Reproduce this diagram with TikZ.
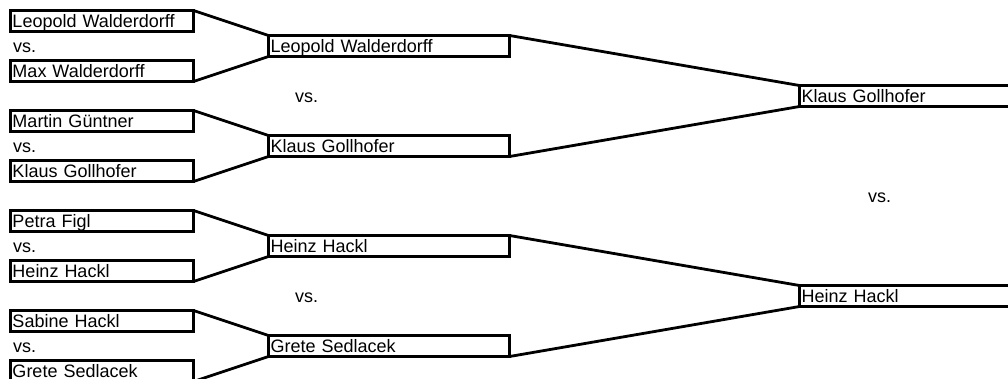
\documentclass[tikz,border=0pt]{standalone}
\usepackage{fontspec}
\setmainfont{Liberation Sans}
\tikzset{trait/.style={line width=2.8pt}}
\newcommand{\duel}[3]{\draw[trait] (#1.north east) -- (#3.north west);
	\draw[trait] (#2.south east) -- (#3.south west)}

\begin{document}
\begin{tikzpicture}[x=1pt, y=-1pt,
	lettre/.style={font=\fontsize{18}{20}\selectfont, text height=16pt, text depth=4pt},
	joueur/.style={draw, trait, rectangle, lettre, outer sep=0pt, inner xsep=2pt,
		inner ysep=0pt, minimum height=21pt, align=left, anchor=west},
	tourA/.style={joueur, text width=179pt},
	tourB/.style={joueur, text width=237pt},
	contre/.style={lettre, anchor=west, inner sep=0pt}]
\useasboundingbox (0,0) rectangle (1008,378);
\clip (0,0) rectangle (1008,378);
%First round
	\node[tourA] (a1) at (10.5,21) {Leopold Walderdorff};
	\node[contre] (va1) at (13,46) {vs.};
	\node[tourA] (a2) at (10.5,71) {Max Walderdorff};
	\node[tourA] (a3) at (10.5,121) {Martin Güntner};
	\node[contre] (va2) at (13,146) {vs.};
	\node[tourA] (a4) at (10.5,171) {Klaus Gollhofer};
	\node[tourA] (a5) at (10.5,221) {Petra Figl};
	\node[contre] (va3) at (13,246) {vs.};
	\node[tourA] (a6) at (10.5,271) {Heinz Hackl};
	\node[tourA] (a7) at (10.5,321) {Sabine Hackl};
	\node[contre] (va4) at (13,346) {vs.};
	\node[tourA] (a8) at (10.5,371) {Grete Sedlacek};
%Second round
	\node[tourB] (b1) at (268.5,46) {Leopold Walderdorff};
	\node[contre] (vb1) at (295,96) {vs.};
	\node[tourB] (b2) at (268.5,146) {Klaus Gollhofer};
	\node[tourB] (b3) at (268.5,246) {Heinz Hackl};
	\node[contre] (vb2) at (295,296) {vs.};
	\node[tourB] (b4) at (268.5,346) {Grete Sedlacek};
%Final
	\node[tourB] (c1) at (799.5,96) {Klaus Gollhofer};
	\node[contre] (vc1) at (868,196) {vs.};
	\node[tourB] (c2) at (799.5,296) {Heinz Hackl};
%Links
	\duel{a1}{a2}{b1};
	\duel{a3}{a4}{b2};
	\duel{a5}{a6}{b3};
	\duel{a7}{a8}{b4};
	\duel{b1}{b2}{c1};
	\duel{b3}{b4}{c2};
\end{tikzpicture}
\end{document}
